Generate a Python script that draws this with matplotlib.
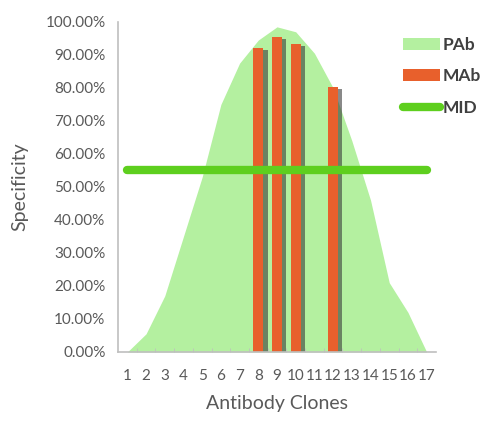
import matplotlib
matplotlib.use("Agg")
import matplotlib.pyplot as plt
import matplotlib.patheffects as pe
from matplotlib.patches import Patch
from matplotlib.lines import Line2D
from matplotlib.ticker import FuncFormatter, FixedLocator
import numpy as np

plt.rcParams['font.family'] = ['Lato', 'DejaVu Sans']

clones = list(range(1, 18))
pab = [0.0, 0.055, 0.17, 0.35, 0.53, 0.75, 0.875, 0.945, 0.985, 0.97,
       0.905, 0.80, 0.64, 0.46, 0.21, 0.12, 0.0]
mab_clones = [8, 9, 10, 12]
mab = [0.922, 0.955, 0.933, 0.804]
mid = [0.55] * len(clones)

c_pab = '#b4f0a0'
c_mab = '#e8602c'
c_mid = '#5ecf1e'
c_text = '#595959'

fig = plt.figure(figsize=(5.0, 4.21), dpi=100)
ax = fig.add_axes([0.236, 0.164, 0.636, 0.784])

ax.fill_between(clones, pab, color=c_pab, lw=0, zorder=1, label='PAb')
bars = ax.bar(mab_clones, mab, width=0.55, color=c_mab, zorder=2, label='MAb')
for b in bars:
    b.set_path_effects([pe.SimplePatchShadow(offset=(3, -1.5), shadow_rgbFace='#3a3a3a', alpha=0.6),
                        pe.Normal()])
ax.plot(clones, mid, color=c_mid, lw=6, solid_capstyle='round', zorder=3, label='MID')

ax.set_xlim(0.5, 17.5)
ax.set_ylim(0, 1)
ax.set_yticks(np.arange(0, 1.01, 0.1))
ax.yaxis.set_major_formatter(FuncFormatter(lambda v, p: '{:.2f}%'.format(v * 100)))
ax.set_xticks(clones)
ax.set_xticklabels([str(c) for c in clones])
ax.xaxis.set_minor_locator(FixedLocator(np.arange(1.5, 17.5, 1)))

for s in ['top', 'right']:
    ax.spines[s].set_visible(False)
ax.spines['left'].set_color('#bfbfbf')
ax.spines['bottom'].set_color('#bfbfbf')
ax.spines['left'].set_linewidth(1.2)
ax.spines['bottom'].set_linewidth(1.2)

ax.tick_params(axis='y', length=0, pad=9, labelsize=11, labelcolor=c_text)
ax.tick_params(axis='x', which='major', length=0, pad=12, labelsize=11, labelcolor=c_text)
ax.tick_params(axis='x', which='minor', direction='in', length=3, color='#bfbfbf')

ax.set_xlabel('Antibody Clones', fontsize=14, color=c_text, labelpad=9)
ax.set_ylabel('Specificity', fontsize=14, color=c_text, labelpad=12)

handles = [Patch(facecolor=c_pab, edgecolor='none'),
           Patch(facecolor=c_mab, edgecolor='none'),
           Line2D([0], [0], color=c_mid, lw=6, solid_capstyle='round')]
leg = fig.legend(handles, ['PAb', 'MAb', 'MID'], loc='upper left',
                 bbox_to_anchor=(0.775, 0.95), frameon=False, handlelength=2.1,
                 handletextpad=0.2, labelspacing=0.9,
                 prop={'weight': 'bold', 'size': 12.5})
for t in leg.get_texts():
    t.set_color('#404040')

fig.savefig('out.png', dpi=100)
